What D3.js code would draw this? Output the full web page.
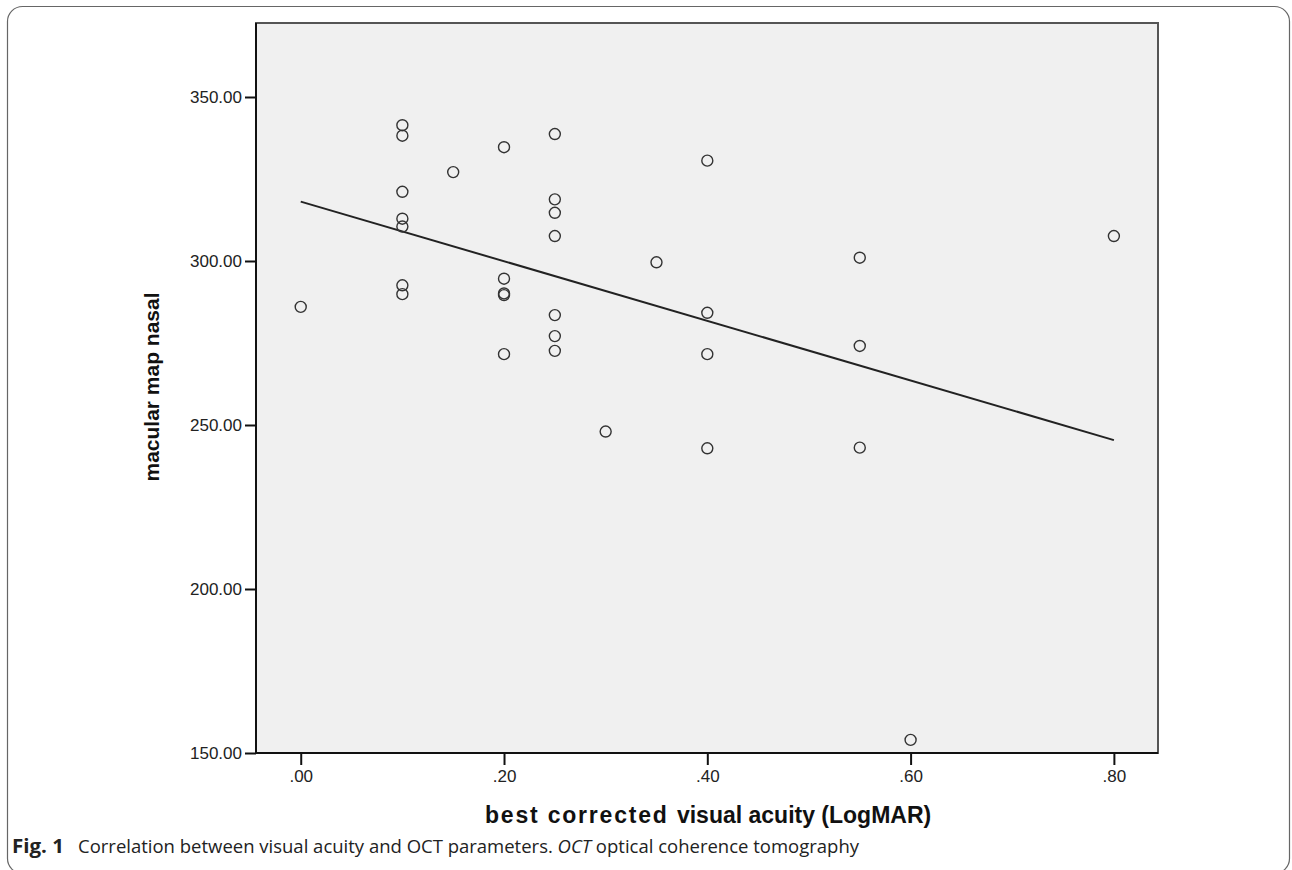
<!DOCTYPE html>
<html>
<head>
<meta charset="utf-8">
<script src="https://cdn.jsdelivr.net/npm/d3@7"></script>
<style>
  body { margin: 0; background: #fff; }
  svg { display: block; }
</style>
</head>
<body>
<div id="chart"></div>
<script>
// values
const acuity = [0.00,
  0.10, 0.10, 0.10, 0.10, 0.10, 0.10, 0.10,
  0.15,
  0.20, 0.20, 0.20, 0.20, 0.20,
  0.25, 0.25, 0.25, 0.25, 0.25, 0.25, 0.25,
  0.30, 0.35,
  0.40, 0.40, 0.40, 0.40,
  0.55, 0.55, 0.55,
  0.60, 0.80];
const nasal = [286.0,
  341.4, 338.2, 321.1, 312.9, 310.5, 292.6, 289.9,
  327.1,
  334.7, 294.6, 290.1, 289.6, 271.6,
  338.7, 318.8, 314.7, 307.6, 283.5, 277.1, 272.6,
  248.0, 299.6,
  330.6, 284.2, 271.6, 242.9,
  301.0, 274.1, 243.1,
  154.0, 307.6];
// fit line ends
const fitX = [0.00, 0.80];
const fitY = [318.1, 245.4];

const xTicks = [0, 0.2, 0.4, 0.6, 0.8];
const yTicks = [150, 200, 250, 300, 350];

const W = 1292, H = 870;
const plot = { left: 256, right: 1158, top: 23, bottom: 753 };

const svg = d3.select("#chart").append("svg")
    .attr("width", W)
    .attr("height", H);

// card border
svg.append("rect")
    .attr("x", 7.5).attr("y", 6.5)
    .attr("width", 1282).attr("height", 867)
    .attr("rx", 15)
    .attr("fill", "#fff")
    .attr("stroke", "#666")
    .attr("stroke-width", 1.2);

const x = d3.scaleLinear().domain([-0.044, 0.8434]).range([plot.left, plot.right]);
const y = d3.scaleLinear().domain([150, 372.56]).range([plot.bottom, plot.top]);

const fmt = d => d3.format(".2f")(d).replace(/^0\./, ".");

// plot background + frame
svg.append("rect")
    .attr("x", plot.left).attr("y", plot.top)
    .attr("width", plot.right - plot.left)
    .attr("height", plot.bottom - plot.top)
    .attr("fill", "#f0f0f0")
    .attr("stroke", "#555")
    .attr("stroke-width", 2);

// Axes
const gx = svg.append("g")
    .attr("transform", `translate(0, ${plot.bottom + 1})`)
    .call(d3.axisBottom(x).tickValues(xTicks).tickFormat(fmt).tickSize(11).tickPadding(5));
gx.select(".domain").remove();

const gy = svg.append("g")
    .attr("transform", `translate(${plot.left}, 0)`)
    .call(d3.axisLeft(y).tickValues(yTicks).tickFormat(fmt).tickSize(11).tickPadding(3));
gy.select(".domain").remove();

svg.selectAll(".tick line").attr("stroke", "#111").attr("stroke-width", 2);
svg.selectAll(".tick text")
    .attr("fill", "#222")
    .style("font-family", "'Liberation Sans', Arial, sans-serif")
    .style("font-size", "17px");

// dark left / bottom axis lines
svg.append("line")
    .attr("x1", plot.left).attr("x2", plot.left)
    .attr("y1", plot.top).attr("y2", plot.bottom)
    .attr("stroke", "#111").attr("stroke-width", 2);
svg.append("line")
    .attr("x1", plot.left).attr("x2", plot.right)
    .attr("y1", plot.bottom).attr("y2", plot.bottom)
    .attr("stroke", "#111").attr("stroke-width", 2);

// Labels axes
const xl = svg.append("text")
    .attr("x", 485)
    .attr("y", 823)
    .style("font-family", "'Liberation Sans', Arial, sans-serif")
    .style("font-size", "23px")
    .style("font-weight", "bold")
    .attr("fill", "#111");
xl.append("tspan").style("letter-spacing", "1.8px").text("best corrected ");
xl.append("tspan").text("visual acuity (LogMAR)");

svg.append("text")
    .attr("transform", "translate(159, 387) rotate(-90)")
    .attr("text-anchor", "middle")
    .style("font-family", "'Liberation Sans', Arial, sans-serif")
    .style("font-size", "21px")
    .style("font-weight", "bold")
    .attr("fill", "#111")
    .text("macular map nasal");

// fit line
svg.append("line")
    .attr("x1", x(fitX[0])).attr("y1", y(fitY[0]))
    .attr("x2", x(fitX[1])).attr("y2", y(fitY[1]))
    .attr("stroke", "#222")
    .attr("stroke-width", 2);

// points
svg.append("g").selectAll("circle")
    .data(acuity.map((a, i) => ({ a, v: nasal[i] })))
    .enter()
    .append("circle")
    .attr("cx", d => x(d.a))
    .attr("cy", d => y(d.v))
    .attr("r", 5.5)
    .attr("fill", "none")
    .attr("stroke", "#333")
    .attr("stroke-width", 1.4);

// caption
svg.append("text")
    .attr("x", 12)
    .attr("y", 853)
    .attr("textLength", 52)
    .attr("lengthAdjust", "spacingAndGlyphs")
    .style("font-family", "'Open Sans', 'Noto Sans', sans-serif")
    .style("font-size", "19px")
    .style("font-weight", "bold")
    .attr("fill", "#222")
    .text("Fig. 1");

const cap = svg.append("text")
    .attr("x", 78)
    .attr("y", 853)
    .attr("textLength", 781)
    .attr("lengthAdjust", "spacingAndGlyphs")
    .style("font-family", "'Open Sans', 'Noto Sans', sans-serif")
    .style("font-size", "18px")
    .attr("fill", "#222");
cap.append("tspan").text("Correlation between visual acuity and OCT parameters. ");
cap.append("tspan").style("font-style", "italic").text("OCT");
cap.append("tspan").text(" optical coherence tomography");
</script>
</body>
</html>
